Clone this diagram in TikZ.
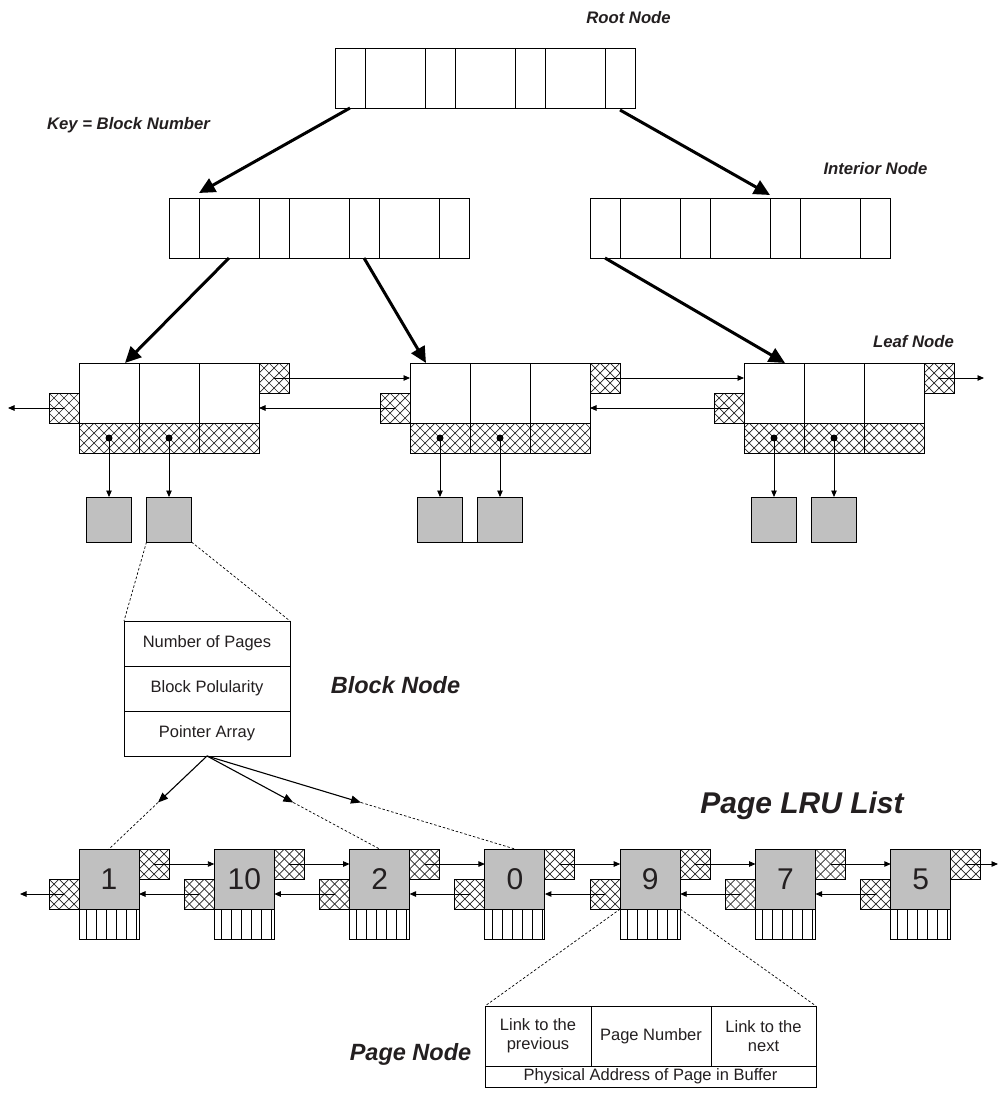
\documentclass[tikz,border=0pt]{standalone}
\usepackage{fontspec}
\setmainfont{Liberation Sans}
\usetikzlibrary{arrows.meta,calc}
\definecolor{boxgray}{RGB}{192,192,192}
\definecolor{ink}{RGB}{35,31,32}
\begin{document}
\begin{tikzpicture}[x=1pt,y=-1pt,
  every node/.style={inner sep=0pt, outer sep=0pt, text=ink},
  cell/.style={draw=black, line width=0.9pt, fill=white, anchor=north west, minimum height=60pt},
  hatchline/.style={line width=0.7pt, draw=black!85},
  hatchbox/.style={draw=black, line width=0.9pt, fill=white, anchor=north west, minimum height=30pt,
    path picture={\foreach \k in {-9,...,9}{
      \draw[hatchline] ([xshift=\k*10pt]path picture bounding box.center) ++(-50pt,-50pt) -- ++(100pt,100pt);
      \draw[hatchline] ([xshift=\k*10pt]path picture bounding box.center) ++(-50pt,50pt) -- ++(100pt,-100pt);}}},
  hb/.style={hatchbox, minimum width=30pt},
  hbw/.style={hatchbox, minimum width=60pt},
  gbox/.style={draw=black, line width=0.9pt, fill=boxgray, anchor=north, minimum width=45pt, minimum height=45pt},
  pbox/.style={draw=black, line width=0.9pt, fill=boxgray, anchor=north west, minimum width=60pt, minimum height=60pt, font=\fontsize{30}{34}\selectfont},
  stripe/.style={draw=black, line width=0.9pt, fill=white, anchor=north west, minimum width=60pt, minimum height=30pt,
    path picture={\foreach \s in {7,17,...,57}{
      \draw[line width=0.8pt] ([xshift=\s pt]path picture bounding box.north west) -- ([xshift=\s pt]path picture bounding box.south west);}}},
  txtbox/.style={draw=black, line width=0.9pt, fill=white, anchor=north west, align=center, font=\fontsize{16.5}{19}\selectfont},
  lab/.style={anchor=base, font=\fontsize{16.7}{20}\selectfont\bfseries\itshape},
  labbig/.style={anchor=base, font=\fontsize{23.5}{28}\selectfont\bfseries\itshape},
  labhuge/.style={anchor=base, font=\fontsize{30}{36}\selectfont\bfseries\itshape},
  bigarr/.style={line width=3pt, -{Triangle[length=16pt,width=15pt]}},
  thinarr/.style={line width=0.9pt, -{Triangle[length=6.5pt,width=5.5pt]}},
  ptrarr/.style={line width=1.1pt, -{Triangle[length=10pt,width=8pt]}},
  dsh/.style={line width=0.7pt, dash pattern=on 2.5pt off 2pt},
]
\useasboundingbox (0,0) rectangle (1000,1097);

% ---------- tree rows (root and interior nodes)
\foreach \n/\x/\w in {1/0/30,2/30/60,3/90/30,4/120/60,5/180/30,6/210/60,7/270/30}{
  \node[cell, minimum width=\w pt] (r\n) at (335+\x,48) {};
  \node[cell, minimum width=\w pt] (iL\n) at (169+\x,198) {};
  \node[cell, minimum width=\w pt] (iR\n) at (590+\x,198) {};
}

% ---------- leaf nodes
\foreach \q/\x in {A/79,B/410,C/744}{
  \foreach \i in {1,2,3}{
    \node[cell, minimum width=60pt] (l\q-\i) at (\x+60*\i-60,363) {};
    \node[hbw] (l\q-h\i) at (\x+60*\i-60,423) {};
  }
  \node[hb] (l\q-r) at (\x+180,363) {};
  \node[hb] (l\q-l) at (\x-30,393) {};
  \node[gbox] (l\q-g1) at (\x+30,497) {};
  \node[gbox] (l\q-g2) at (\x+90,497) {};
  \fill (l\q-h1.center) circle[radius=3.5pt];
  \fill (l\q-h2.center) circle[radius=3.5pt];
  \draw[thinarr] (l\q-h1.center) -- (l\q-g1.north);
  \draw[thinarr] (l\q-h2.center) -- (l\q-g2.north);
}
\draw[line width=0.9pt] (lB-g1.south east) -- (lB-g2.south west);

% leaf links
\draw[thinarr] (lA-r.center) -- (lA-r.center -| lB-1.west);
\draw[thinarr] (lB-l.center) -- (lB-l.center -| lA-3.east);
\draw[thinarr] (lB-r.center) -- (lB-r.center -| lC-1.west);
\draw[thinarr] (lC-l.center) -- (lC-l.center -| lB-3.east);
\coordinate (lout) at (8,408);
\coordinate (rout) at (984,378);
\draw[thinarr] (lA-l.center) -- (lout);
\draw[thinarr] (lC-r.center) -- (rout);

% ---------- thick tree arrows
\draw[bigarr] (r1.south) -- ([yshift=5pt]iL2.north west);
\draw[bigarr] ([yshift=-2pt]r7.south) -- ([yshift=3pt]iR5.north west);
\draw[bigarr] (iL2.south) -- ([xshift=-14pt]lA-1.north east);
\draw[bigarr] (iL5.south) -- ([xshift=16pt]lB-1.north west);
\draw[bigarr] (iR1.south) -- ([xshift=-19pt]lC-1.north east);

% ---------- block node
\node[txtbox, minimum width=166pt, minimum height=45pt] (bn1) at (124,621) {Number of Pages};
\node[txtbox, minimum width=166pt, minimum height=45pt] (bn2) at (124,666) {Block Polularity};
\node[txtbox, minimum width=166pt, minimum height=45pt] (bn3) at (124,711) {Pointer Array};
\draw[dsh] (lA-g2.south west) -- (bn1.north west);
\draw[dsh] (lA-g2.south east) -- (bn1.north east);

% ---------- page LRU list
\foreach \n/\lab [count=\c from 0] in {1/1,2/10,3/2,4/0,5/9,6/7,7/5}{
  \node[pbox] (p\n) at (79+135.3*\c,849) {\lab};
  \node[hb] (p\n-r) at (139+135.3*\c,849) {};
  \node[hb] (p\n-l) at (49+135.3*\c,879) {};
  \node[stripe] (p\n-s) at (79+135.3*\c,909) {};
}
\foreach \a/\b in {1/2,2/3,3/4,4/5,5/6,6/7}{
  \draw[thinarr] (p\a-r.center) -- (p\a-r.center -| p\b.west);
  \draw[thinarr] (p\b-l.center) -- (p\b-l.center -| p\a.east);
}
\coordinate (poutl) at (20,894);
\coordinate (poutr) at (998,864);
\draw[thinarr] (p1-l.center) -- (poutl);
\draw[thinarr] (p7-r.center) -- (poutr);

% pointer array arrows
\foreach \t in {p1,p3,p4}{
  \coordinate (m-\t) at ($(bn3.south)!0.5!(\t.north)$);
  \draw[ptrarr] (bn3.south) -- (m-\t);
  \draw[dsh] (m-\t) -- (\t.north);
}

% ---------- page node detail
\node[txtbox, minimum width=106pt, minimum height=60pt] (pna) at (485,1006) {Link to the\\previous};
\node[txtbox, minimum width=120pt, minimum height=60pt] (pnb) at (591,1006) {Page Number};
\node[txtbox, minimum width=105pt, minimum height=60pt] (pnc) at (711,1006) {Link to the\\next};
\node[txtbox, minimum width=331pt, minimum height=21pt] (pnd) at (485,1066) {Physical Address of Page in Buffer};
\draw[dsh] (p5.south west) -- (pna.north west);
\draw[dsh] (p5.south east) -- (pnc.north east);

% ---------- labels
\node[lab] (tRoot) at (628.5,24) {Root Node};
\node[lab] (tKey) at (128.5,129) {Key = Block Number};
\node[lab] (tInt) at (875.5,174) {Interior Node};
\node[lab] (tLeaf) at (913.5,347) {Leaf Node};
\node[labbig] (tBlock) at (395.5,693) {Block Node};
\node[labhuge] (tLRU) at (802,813) {Page LRU List};
\node[labbig] (tPage) at (410.5,1060) {Page Node};
\end{tikzpicture}
\end{document}
